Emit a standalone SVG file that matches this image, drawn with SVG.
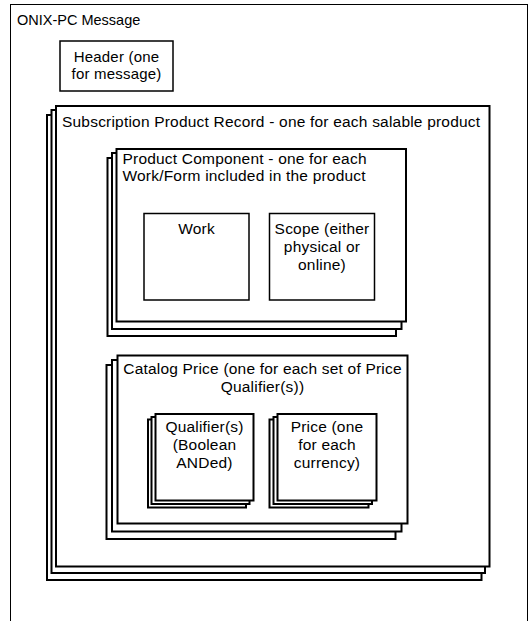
<svg xmlns="http://www.w3.org/2000/svg" width="532" height="621" viewBox="0 0 532 621">
<style>
  .t { font-family: "Liberation Sans", Arial, sans-serif; font-size: 15.5px; letter-spacing: 0.2px; fill: #000; }
  .s { font-size: 15px; }
  .title { font-size: 14.5px; letter-spacing: 0; }
  .c { text-anchor: middle; }
  .stk { fill: #fff; stroke: #000; stroke-width: 2; }
  .box { fill: #fff; stroke: #000; stroke-width: 1.5; }
  .outer { fill: #fff; stroke: #000; stroke-width: 1; }
</style>
<rect x="0" y="0" width="532" height="621" fill="#fff"/>
<g id="onix-message">
  <rect class="outer" x="10.5" y="4.5" width="517" height="640"/>
  <text class="t title" x="17" y="25">ONIX-PC Message</text>
</g>
<g id="header">
  <rect class="box" x="60" y="41" width="113" height="50"/>
  <text class="t s c" x="116.5" y="62">Header (one</text>
  <text class="t s c" x="116.5" y="79">for message)</text>
</g>
<g id="subscription-product-record">
  <rect class="stk" x="47" y="115" width="434.5" height="465"/>
  <rect class="stk" x="51.5" y="110" width="433.5" height="463"/>
  <rect class="stk" x="56" y="106" width="433.5" height="460.5"/>
  <text class="t" x="62" y="127">Subscription Product Record - one for each salable product</text>
</g>
<g id="product-component">
  <rect class="stk" x="107.5" y="158" width="288.5" height="178"/>
  <rect class="stk" x="112" y="153" width="289.5" height="176"/>
  <rect class="stk" x="116.5" y="149" width="289.5" height="172.5"/>
  <text class="t" x="122.5" y="164">Product Component - one for each</text>
  <text class="t" x="122.5" y="181">Work/Form included in the product</text>
</g>
<g id="work">
  <rect class="box" x="144" y="213.5" width="105" height="86.5"/>
  <text class="t c" x="196.5" y="234">Work</text>
</g>
<g id="scope">
  <rect class="box" x="269.5" y="213.5" width="105" height="86.5"/>
  <text class="t c" x="322" y="234">Scope (either</text>
  <text class="t c" x="322" y="252">physical or</text>
  <text class="t c" x="322" y="270">online)</text>
</g>
<g id="catalog-price">
  <rect class="stk" x="106.5" y="365" width="289" height="174"/>
  <rect class="stk" x="112" y="360" width="289.5" height="171.5"/>
  <rect class="stk" x="117.5" y="355.5" width="290" height="168"/>
  <text class="t c" x="262.5" y="374">Catalog Price (one for each set of Price</text>
  <text class="t c" x="262.5" y="392">Qualifier(s))</text>
</g>
<g id="qualifiers">
  <rect class="stk" x="148" y="419.5" width="98" height="88"/>
  <rect class="stk" x="151.5" y="417" width="98" height="87"/>
  <rect class="stk" x="155.5" y="414" width="98" height="86.5"/>
  <text class="t c" x="204.5" y="432">Qualifier(s)</text>
  <text class="t c" x="204.5" y="450">(Boolean</text>
  <text class="t c" x="204.5" y="468">ANDed)</text>
</g>
<g id="price">
  <rect class="stk" x="269.5" y="419.5" width="99" height="88"/>
  <rect class="stk" x="273.5" y="417" width="98.5" height="87"/>
  <rect class="stk" x="277.5" y="414" width="99" height="86.5"/>
  <text class="t c" x="327" y="432">Price (one</text>
  <text class="t c" x="327" y="450">for each</text>
  <text class="t c" x="327" y="468">currency)</text>
</g>
<g id="connectors"></g>
</svg>
